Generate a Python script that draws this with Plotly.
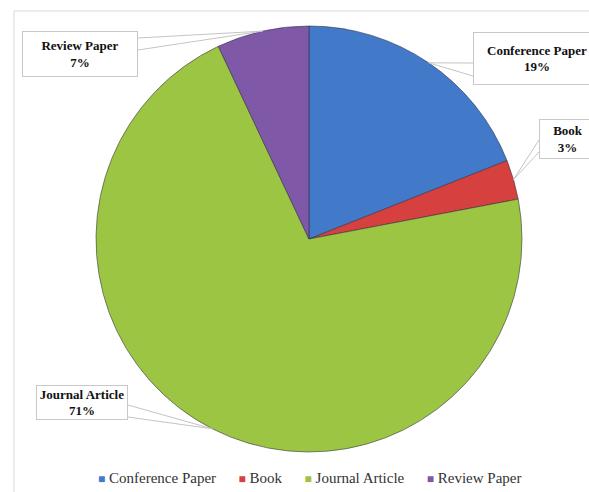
import math
import plotly.graph_objects as go

# ---- data ----
categories = ["Conference Paper", "Book", "Journal Article", "Review Paper"]
values = [19, 3, 71, 7]
colors = ["#4279C9", "#D6403E", "#9CC543", "#7F58A8"]

W, H = 589, 492
cx, cy, r = 309, 239, 213


def px(x):
    return x / W


def py(y):
    return 1 - y / H


fig = go.Figure()
fig.add_trace(go.Pie(
    labels=categories,
    values=values,
    sort=False,
    direction="clockwise",
    rotation=0,
    marker=dict(colors=colors, line=dict(color="rgba(45,45,70,0.55)", width=1)),
    textinfo="none",
    hoverinfo="label+percent",
    showlegend=False,
    domain=dict(x=[px(cx - r), px(cx + r)], y=[py(cy + r), py(cy - r)]),
))

# label boxes (layout): center x, center y, width, height, leader end points on box edge
boxes = {
    "Review Paper": dict(bx=80, by=54, w=116, h=46, ends=[(138, 38), (138, 50)]),
    "Conference Paper": dict(bx=537, by=58, w=128, h=53, ends=[(473, 63), (473, 76)]),
    "Book": dict(bx=568, by=139, w=58, h=40, ends=[(539, 140), (539, 152)]),
    "Journal Article": dict(bx=82, by=402, w=92, h=35, ends=[(128, 405), (128, 417)]),
}

total = sum(values)
cum = 0
shapes = []
annotations = []
for cat, v in zip(categories, values):
    mid = (cum + v / 2) / total * 2 * math.pi
    cum += v
    ax = cx + r * math.sin(mid)
    ay = cy - r * math.cos(mid)
    b = boxes[cat]
    for (ex, ey) in b["ends"]:
        shapes.append(dict(type="line", xref="paper", yref="paper",
                           x0=px(ax), y0=py(ay), x1=px(ex), y1=py(ey),
                           line=dict(color="#c4c4c4", width=1)))
    pct = round(v / total * 100)
    annotations.append(dict(
        x=px(b["bx"]), y=py(b["by"]), xref="paper", yref="paper",
        text=f"<b>{cat}</b><br><b>{pct}%</b>", showarrow=False,
        xanchor="center", yanchor="middle",
        width=b["w"] - 2, height=b["h"] - 2, borderpad=0,
        bgcolor="white", bordercolor="#c8c8c8", borderwidth=1,
        font=dict(family="Liberation Serif", size=13, color="#111111"),
    ))

# frame around chart area
shapes.insert(0, dict(type="rect", xref="paper", yref="paper",
                      x0=px(14), x1=1.05, y0=-0.05, y1=py(11),
                      line=dict(color="#d9d9d9", width=1), layer="below"))

# legend row built from categories and colors
gap = "\u00a0" * 6
legend_text = gap.join(
    f"<span style='color:{c};font-size:12px'>■</span>\u00a0{cat}"
    for cat, c in zip(categories, colors)
)
annotations.append(dict(
    x=px(310), y=py(478), xref="paper", yref="paper",
    text=legend_text, showarrow=False, xanchor="center", yanchor="middle",
    font=dict(family="Liberation Serif", size=15, color="#333333"),
))

fig.update_layout(
    width=W, height=H,
    margin=dict(l=0, r=0, t=0, b=0),
    paper_bgcolor="white",
    plot_bgcolor="white",
    shapes=shapes,
    annotations=annotations,
)

fig.write_html("out.html")
